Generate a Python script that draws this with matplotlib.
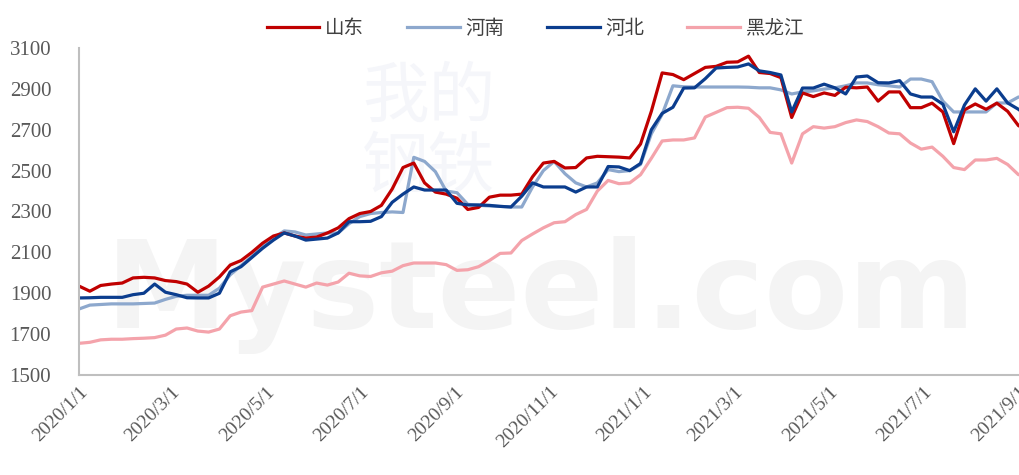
import matplotlib
matplotlib.use("Agg")
import matplotlib.pyplot as plt
import matplotlib.dates as mdates
from matplotlib.ticker import FuncFormatter
import pandas as pd

plt.rcParams['font.family'] = ['Noto Sans CJK SC', 'DejaVu Sans']

# weekly price points, 2020/1/1 .. 2021/9/8
dates = pd.date_range('2020-01-01', periods=89, freq='7D')

shandong = [1935, 1910, 1938, 1945, 1950, 1975, 1978, 1975, 1962, 1957,
            1945, 1905, 1935, 1980, 2038, 2060, 2100, 2145, 2180, 2195,
            2180, 2170, 2175, 2195, 2220, 2265, 2290, 2300, 2330, 2410,
            2515, 2537, 2440, 2395, 2385, 2365, 2310, 2320, 2370, 2380,
            2380, 2385, 2470, 2537, 2545, 2513, 2515, 2562, 2570, 2568,
            2566, 2562, 2630, 2790, 2978, 2970, 2945, 2975, 3005, 3010,
            3030, 3032, 3060, 2980, 2975, 2955, 2760, 2880, 2862, 2880,
            2868, 2908, 2905, 2909, 2840, 2885, 2885, 2808, 2808, 2830,
            2787, 2632, 2797, 2826, 2800, 2830, 2790, 2720, 2695]

henan = [1823, 1842, 1845, 1848, 1848, 1848, 1850, 1852, 1870, 1885,
         1890, 1890, 1890, 1925, 1990, 2035, 2080, 2130, 2170, 2205,
         2200, 2185, 2190, 2195, 2195, 2240, 2275, 2290, 2295, 2298,
         2295, 2565, 2545, 2495, 2400, 2392, 2335, 2330, 2327, 2325,
         2322, 2322, 2420, 2500, 2545, 2485, 2440, 2420, 2440, 2505,
         2495, 2500, 2530, 2680, 2775, 2915, 2910, 2909, 2909, 2909,
         2909, 2909, 2908, 2905, 2905, 2895, 2875, 2885, 2890, 2899,
         2905, 2915, 2929, 2929, 2920, 2915, 2909, 2948, 2948, 2935,
         2840, 2787, 2787, 2787, 2787, 2831, 2831, 2860, 2860]

hebei = [1877, 1878, 1880, 1880, 1880, 1893, 1900, 1945, 1905, 1893,
         1878, 1877, 1877, 1900, 2005, 2030, 2075, 2120, 2160, 2195,
         2180, 2160, 2165, 2170, 2195, 2250, 2250, 2252, 2275, 2345,
         2385, 2420, 2405, 2405, 2405, 2340, 2332, 2332, 2330, 2325,
         2322, 2375, 2440, 2420, 2420, 2420, 2395, 2420, 2420, 2520,
         2518, 2500, 2535, 2700, 2780, 2810, 2904, 2905, 2950, 3002,
         3005, 3007, 3022, 2988, 2980, 2968, 2787, 2904, 2904, 2923,
         2905, 2875, 2958, 2963, 2930, 2929, 2940, 2875, 2860, 2860,
         2825, 2690, 2821, 2900, 2840, 2900, 2831, 2800, 2760]

heilongjiang = [1655, 1660, 1672, 1675, 1675, 1678, 1680, 1683, 1695, 1725,
                1730, 1715, 1710, 1725, 1790, 1808, 1815, 1930, 1945, 1960,
                1945, 1930, 1950, 1940, 1955, 1998, 1985, 1982, 2000, 2008,
                2035, 2048, 2048, 2048, 2040, 2012, 2015, 2030, 2060, 2095,
                2097, 2158, 2190, 2220, 2245, 2250, 2285, 2310, 2400, 2452,
                2436, 2440, 2480, 2560, 2645, 2650, 2650, 2660, 2762, 2785,
                2808, 2810, 2805, 2760, 2687, 2680, 2537, 2680, 2715, 2708,
                2715, 2735, 2748, 2740, 2715, 2684, 2680, 2635, 2605, 2615,
                2570, 2515, 2505, 2552, 2552, 2560, 2530, 2480, 2478]

names = ['山东', '河南', '河北', '黑龙江']
yticks = [1500, 1700, 1900, 2100, 2300, 2500, 2700, 2900, 3100]

fig = plt.figure(figsize=(10.2, 4.75), dpi=100)
ax = fig.add_axes([0.0775, 0.2105, 0.9225, 0.6885])
ax.set_zorder(2)
ax.patch.set_alpha(0)

# faint watermark, kept behind the axes
fig.text(0.53, 0.38, 'Mysteel.com', fontsize=88, fontweight='bold',
         color='#f4f4f4', ha='center', va='center', zorder=0,
         family='DejaVu Sans')
fig.text(0.42, 0.72, '我的\n钢铁', fontsize=48, color='#f5f6fa',
         ha='center', va='center', zorder=0, linespacing=1.05)

l_hlj, = ax.plot(dates, heilongjiang, color='#F4A3AB', lw=2.3, label=names[3])
l_hn, = ax.plot(dates, henan, color='#8DA8CD', lw=2.3, label=names[1])
l_sd, = ax.plot(dates, shandong, color='#C00000', lw=2.3, label=names[0])
l_hb, = ax.plot(dates, hebei, color='#0B3D8E', lw=2.3, label=names[2])

ax.set_ylim(1500, 3100)
ax.set_yticks(yticks)
ax.set_xlim(pd.Timestamp('2020-01-01'), pd.Timestamp('2021-09-02'))
ax.xaxis.set_major_locator(mdates.MonthLocator(bymonth=[1, 3, 5, 7, 9, 11]))
ax.xaxis.set_major_formatter(FuncFormatter(
    lambda v, pos: '{0.year}/{0.month}/{0.day}'.format(mdates.num2date(v))))

for s in ['top', 'right']:
    ax.spines[s].set_visible(False)
for s in ['left', 'bottom']:
    ax.spines[s].set_color('#BFBFBF')
    ax.spines[s].set_linewidth(1.5)

ax.tick_params(axis='both', length=0, colors='#595959')
ax.tick_params(axis='y', pad=20)
ax.tick_params(axis='x', pad=6)
for lab in ax.get_yticklabels():
    lab.set_fontfamily('Liberation Serif')
    lab.set_fontsize(15)
for lab in ax.get_xticklabels():
    lab.set_fontfamily('Liberation Serif')
    lab.set_fontsize(14)
    lab.set_rotation(45)
    lab.set_ha('right')
    lab.set_va('top')
    lab.set_rotation_mode('anchor')

fig.legend(handles=[l_sd, l_hn, l_hb, l_hlj], labels=names,
           loc='upper center', bbox_to_anchor=(0.525, 1.0), ncol=4,
           frameon=False, fontsize=14, handlelength=2.7, handletextpad=0.3,
           columnspacing=2.2, labelcolor='#404040')

fig.savefig('out.png', dpi=100, facecolor='white')
